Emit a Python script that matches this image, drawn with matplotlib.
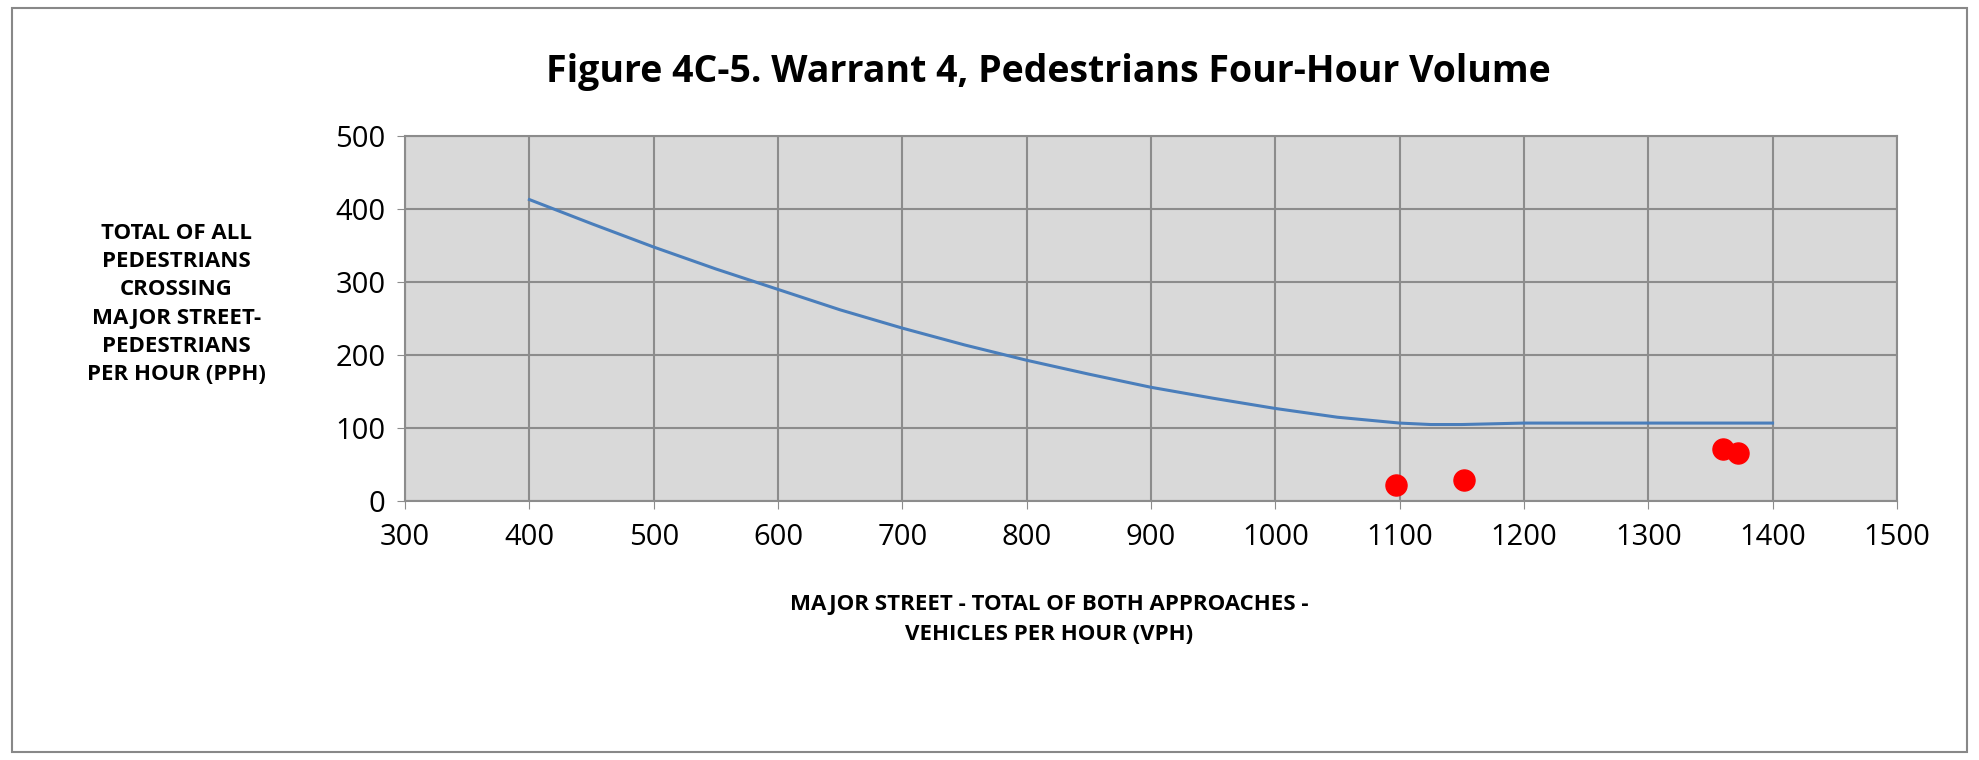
import matplotlib
matplotlib.use("Agg")
import matplotlib.pyplot as plt
from matplotlib.patches import Rectangle

plt.rcParams['font.family'] = ['Open Sans', 'DejaVu Sans']

curve_x = [400, 450, 500, 550, 600, 650, 700, 750, 800, 850, 900, 950, 1000, 1050, 1100, 1125, 1150, 1200, 1300, 1400]
curve_y = [413, 380, 348, 318, 290, 262, 237, 214, 193, 174, 156, 141, 127, 115, 107, 105, 105, 107, 107, 107]
pts_x = [1097, 1152, 1360, 1372]
pts_y = [22, 29, 72, 66]
xticks = [300, 400, 500, 600, 700, 800, 900, 1000, 1100, 1200, 1300, 1400, 1500]
yticks = [0, 100, 200, 300, 400, 500]

fig = plt.figure(figsize=(19.79, 7.6), dpi=100)
fig.patches.append(Rectangle((0.006, 0.01), 0.988, 0.98, transform=fig.transFigure,
                             fill=False, edgecolor='#888888', lw=1.5))
ax = fig.add_axes([0.2047, 0.3405, 0.7538, 0.4805])
ax.set_facecolor('#d9d9d9')
ax.plot(curve_x, curve_y, color='#4a7ebb', lw=2.2)
ax.scatter(pts_x, pts_y, s=230, color='#ff0000', zorder=3)
ax.set_xlim(300, 1500)
ax.set_ylim(0, 500)
ax.set_xticks(xticks)
ax.set_yticks(yticks)
ax.grid(True, color='#8c8c8c', lw=1.5)
ax.set_axisbelow(True)
for s in ax.spines.values():
    s.set_color('#8c8c8c'); s.set_linewidth(1.5)
ax.tick_params(labelsize=21, length=6, color='#8c8c8c')
ax.tick_params(axis='x', pad=10)
ax.tick_params(axis='y', pad=8)

fig.text(0.53, 0.905, 'Figure 4C-5. Warrant 4, Pedestrians Four-Hour Volume',
         ha='center', va='center', fontsize=27, fontweight='bold')
fig.text(0.089, 0.60, 'TOTAL OF ALL\nPEDESTRIANS\nCROSSING\nMAJOR STREET-\nPEDESTRIANS\nPER HOUR (PPH)',
         ha='center', va='center', fontsize=16, fontweight='bold', linespacing=1.45)
fig.text(0.53, 0.185, 'MAJOR STREET - TOTAL OF BOTH APPROACHES -\nVEHICLES PER HOUR (VPH)',
         ha='center', va='center', fontsize=16, fontweight='bold', linespacing=1.6)
fig.savefig('out.png', dpi=100)
